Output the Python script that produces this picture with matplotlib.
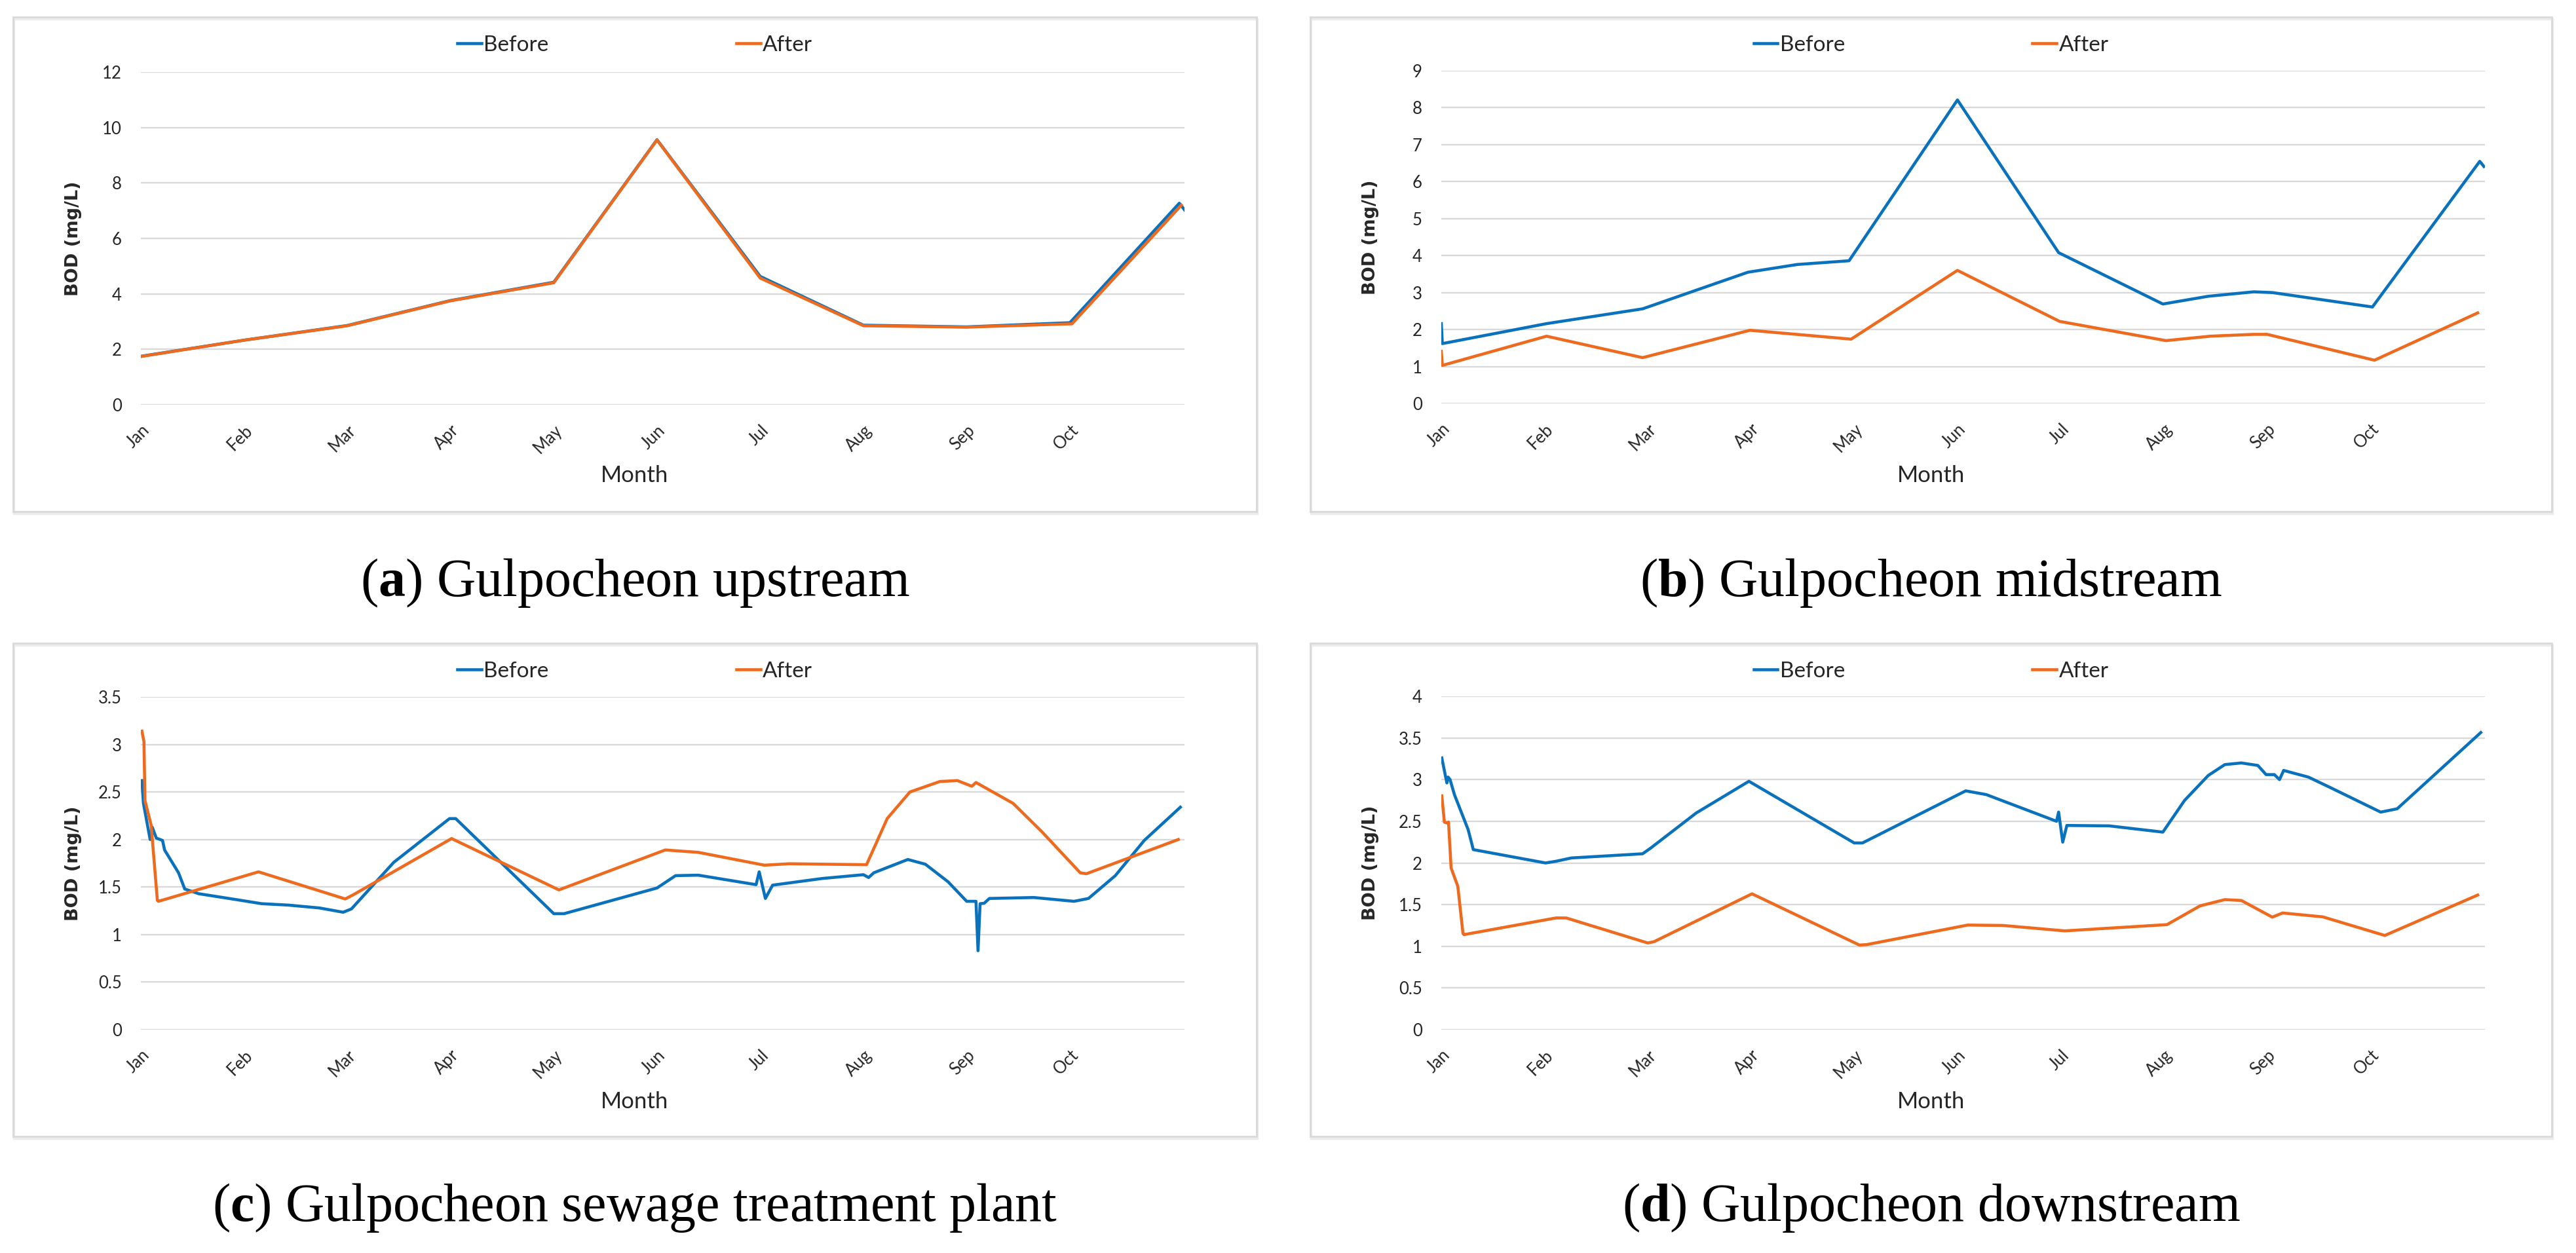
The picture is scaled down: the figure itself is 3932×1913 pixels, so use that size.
import matplotlib.pyplot as plt
from matplotlib.patches import Rectangle
from matplotlib.ticker import FuncFormatter, MultipleLocator

plt.rcParams['font.family'] = ['Lato', 'DejaVu Sans']
plt.rcParams['mathtext.fontset'] = 'custom'
plt.rcParams['mathtext.rm'] = 'Liberation Serif'
plt.rcParams['mathtext.bf'] = 'Liberation Serif:bold'

# ==========================================
# Data (x = month index, 0 = Jan ...)
# ==========================================
months = ['Jan', 'Feb', 'Mar', 'Apr', 'May', 'Jun', 'Jul', 'Aug', 'Sep', 'Oct']

# (a) upstream
a_before_x = [0, 1, 2, 3, 4, 5, 6, 7, 8, 9, 10.06, 10.11]
a_before_y = [1.75, 2.33, 2.86, 3.76, 4.42, 9.56, 4.63, 2.87, 2.81, 2.96, 7.27, 7.03]
a_after_x = [0, 1, 2, 3, 4, 5, 6, 7, 8, 9.02, 10.08]
a_after_y = [1.74, 2.33, 2.85, 3.75, 4.4, 9.55, 4.57, 2.85, 2.8, 2.92, 7.2]

# (b) midstream
b_before_x = [0, 0.01, 1.02, 1.95, 2.97, 3.45, 3.95, 5.0, 5.98, 6.99, 7.43, 7.87, 8.05,
              9.02, 10.06, 10.1]
b_before_y = [2.16, 1.62, 2.16, 2.56, 3.55, 3.76, 3.86, 8.21, 4.08, 2.69, 2.9, 3.02, 3.0,
              2.61, 6.55, 6.41]
b_after_x = [0, 0.01, 1.02, 1.95, 2.99, 3.97, 5.0, 5.99, 7.02, 7.45, 7.87, 8.0, 9.04, 10.04]
b_after_y = [1.41, 1.03, 1.82, 1.24, 1.98, 1.74, 3.6, 2.22, 1.7, 1.82, 1.87, 1.87, 1.17, 2.45]

# (c) sewage treatment plant
c_before_x = [0.01, 0.025, 0.09, 0.11, 0.15, 0.21, 0.23, 0.365, 0.425, 0.56, 0.97, 1.17,
              1.43, 1.73, 1.96, 2.04, 2.45, 2.99, 3.05, 4.0, 4.1, 5.0, 5.18, 5.4, 5.96,
              5.99, 6.05, 6.12, 6.6, 7.0, 7.05, 7.1, 7.43, 7.6, 7.82, 8.0, 8.09, 8.11,
              8.13, 8.17, 8.22, 8.65, 9.04, 9.18, 9.44, 9.72, 10.07]
c_before_y = [2.62, 2.38, 2.0, 2.13, 2.015, 1.99, 1.89, 1.65, 1.48, 1.43, 1.36, 1.325,
              1.31, 1.28, 1.235, 1.27, 1.76, 2.22, 2.22, 1.22, 1.22, 1.49, 1.62, 1.625,
              1.525, 1.66, 1.38, 1.52, 1.59, 1.63, 1.6, 1.65, 1.79, 1.74, 1.555, 1.35,
              1.35, 0.83, 1.325, 1.33, 1.38, 1.39, 1.35, 1.38, 1.62, 1.99, 2.34]
c_after_x = [0.01, 0.03, 0.04, 0.1, 0.16, 0.17, 1.14, 1.98, 2.06, 3.01, 4.05, 5.08, 5.4,
             6.04, 6.28, 7.03, 7.23, 7.45, 7.74, 7.91, 8.05, 8.09, 8.45, 8.73, 9.1, 9.16,
             10.05]
c_after_y = [3.14, 3.03, 2.41, 2.15, 1.36, 1.35, 1.66, 1.375, 1.42, 2.01, 1.47, 1.89,
             1.865, 1.73, 1.745, 1.735, 2.22, 2.5, 2.61, 2.62, 2.56, 2.6, 2.38, 2.08,
             1.65, 1.64, 2.0]

# (d) downstream
d_before_x = [0.005, 0.054, 0.066, 0.085, 0.127, 0.26, 0.31, 1.01, 1.11, 1.26, 1.95, 2.03,
              2.47, 2.98, 4.0, 4.08, 5.08, 5.28, 5.96, 5.98, 6.02, 6.06, 6.47, 6.99, 7.2,
              7.43, 7.59, 7.75, 7.91, 7.99, 8.07, 8.12, 8.16, 8.4, 8.62, 9.1, 9.26, 10.07]
d_before_y = [3.26, 2.96, 3.03, 3.0, 2.82, 2.4, 2.16, 2.0, 2.02, 2.06, 2.11, 2.18,
              2.6, 2.98, 2.24, 2.24, 2.865, 2.82, 2.5, 2.61, 2.25, 2.45, 2.445, 2.37, 2.75,
              3.05, 3.18, 3.2, 3.17, 3.06, 3.06, 3.0, 3.11, 3.03, 2.9, 2.61, 2.65, 3.565]
d_after_x = [0.005, 0.03, 0.054, 0.07, 0.095, 0.16, 0.21, 0.22, 1.11, 1.21, 2.0, 2.06,
             3.01, 4.05, 4.12, 5.1, 5.44, 6.04, 7.03, 7.35, 7.59, 7.75, 8.05, 8.15, 8.54,
             9.14, 10.04]
d_after_y = [2.805, 2.49, 2.48, 2.49, 1.94, 1.72, 1.155, 1.14, 1.34, 1.34, 1.04, 1.055,
             1.63, 1.015, 1.02, 1.255, 1.25, 1.185, 1.26, 1.485, 1.56, 1.55, 1.35, 1.40,
             1.353, 1.13, 1.615]

# ==========================================
# Layout (pixels of the 3932x1913 canvas)
# ==========================================
W, H, DPI = 3932, 1913, 100
BLUE = '#0A72BD'
ORANGE = '#EE6A1E'
GRID = '#D9D9D9'
TXT = '#262626'
X_MAX = 10.11

panels = [
    # box (l, t, r, b), plot (l, t, r, b), ymax, ystep, letter, caption, data
    ((20, 26, 1918, 781), (215, 110, 1808, 618), 12, 2, 'a', 'Gulpocheon upstream',
     (a_before_x, a_before_y, a_after_x, a_after_y)),
    ((2000, 26, 3895, 781), (2200, 108, 3793, 616), 9, 1, 'b', 'Gulpocheon midstream',
     (b_before_x, b_before_y, b_after_x, b_after_y)),
    ((20, 982, 1918, 1735), (215, 1064, 1808, 1572), 3.5, 0.5, 'c',
     'Gulpocheon sewage treatment plant',
     (c_before_x, c_before_y, c_after_x, c_after_y)),
    ((2000, 982, 3895, 1735), (2200, 1063, 3793, 1572), 4, 0.5, 'd', 'Gulpocheon downstream',
     (d_before_x, d_before_y, d_after_x, d_after_y)),
]

fig = plt.figure(figsize=(W / DPI, H / DPI), dpi=DPI)


def fx(px):
    return px / W


def fy(py):
    return 1 - py / H


for box, plot, ymax, ystep, letter, caption, (bx, by, ax_, ay) in panels:
    bl, bt, br, bb = box
    # chart area frame (light shadow + border)
    fig.add_artist(Rectangle((fx(bl + 1), fy(bb + 3)), fx(br - bl), (bb - bt) / H,
                             transform=fig.transFigure, fill=False,
                             edgecolor='#ECECEC', lw=2.5, zorder=0))
    fig.add_artist(Rectangle((fx(bl), fy(bb)), fx(br - bl), (bb - bt) / H,
                             transform=fig.transFigure, fill=False,
                             edgecolor=GRID, lw=2, zorder=1))

    pl, pt, pr, pb = plot
    ax = fig.add_axes([fx(pl), fy(pb), fx(pr - pl), (pb - pt) / H])
    ax.plot(bx, by, color=BLUE, lw=3.3, solid_joinstyle='round', label='Before', zorder=3)
    ax.plot(ax_, ay, color=ORANGE, lw=3.3, solid_joinstyle='round', label='After', zorder=4)

    ax.set_xlim(0, X_MAX)
    ax.set_ylim(0, ymax)
    ax.yaxis.set_major_locator(MultipleLocator(ystep))
    ax.yaxis.set_major_formatter(FuncFormatter(lambda v, p: f'{v:g}'))
    ax.set_xticks(range(len(months)))
    ax.set_xticklabels(months, rotation=45, ha='right', va='top', rotation_mode='anchor')
    ax.grid(axis='y', color=GRID, lw=1.7)
    ax.set_axisbelow(True)
    for s in ax.spines.values():
        s.set_visible(False)
    ax.tick_params(axis='both', length=0, labelsize=18.5, colors=TXT)
    ax.tick_params(axis='y', pad=21)
    ax.tick_params(axis='x', pad=19)

    cx = (bl + br) / 2
    # legend on top of the chart area
    ax.legend(loc='center', bbox_to_anchor=(fx(cx), fy(bt + 43)),
              bbox_transform=fig.transFigure, ncol=2, frameon=False, fontsize=24,
              handlelength=1.1, handletextpad=0.1, columnspacing=8.6, labelcolor=TXT)

    fig.text(fx(cx), fy(bt + 700), 'Month', ha='center', va='center', fontsize=25, color=TXT)
    fig.text(fx(bl + 92), fy((pt + pb) / 2), 'BOD (mg/L)', rotation=90, ha='center',
             va='center', fontsize=19.5, fontweight='bold', family='DejaVu Sans', color=TXT)

    fig.text(fx(cx), fy(bb + 129), rf'($\mathbf{{{letter}}}$) {caption}', ha='center',
             va='baseline', fontsize=59, family='Liberation Serif', color='black')

plt.savefig('out.png', dpi=DPI)
print("Generated BOD before/after figure")
